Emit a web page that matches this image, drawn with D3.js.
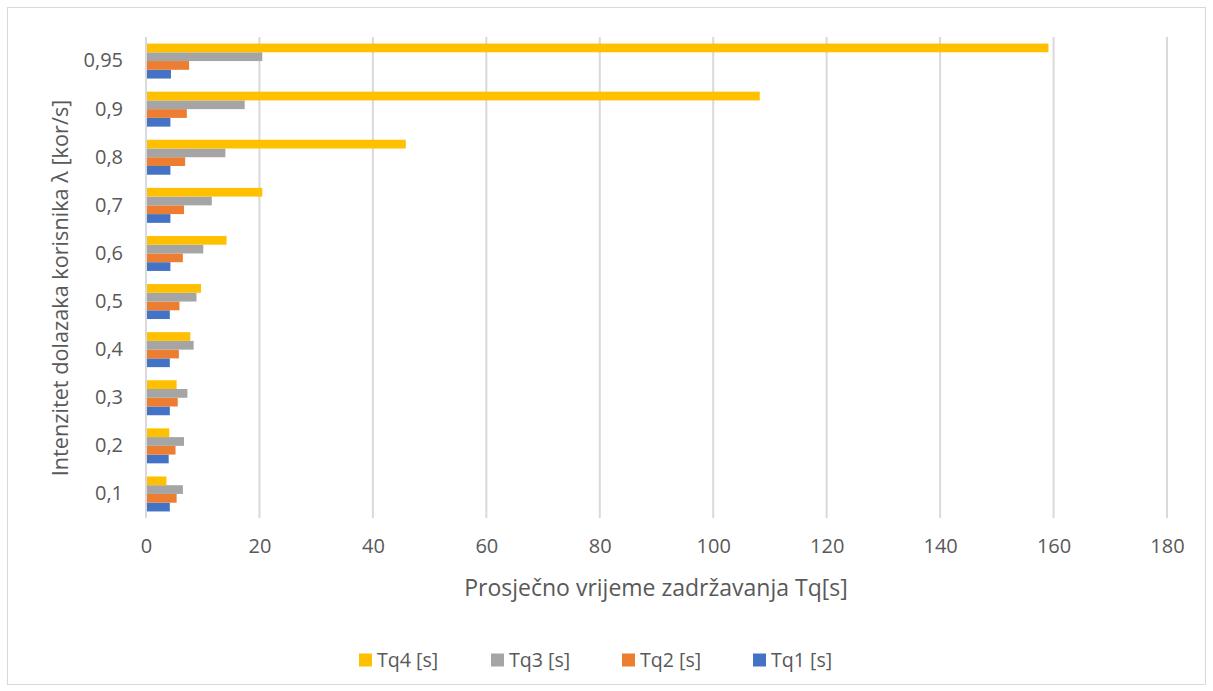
<!DOCTYPE html>
<html>
<head>
<meta charset="utf-8">
<script src="https://cdnjs.cloudflare.com/ajax/libs/d3/7.8.5/d3.min.js"></script>
<style>
  body { margin: 0; background: #fff; }
  text { font-family: "Open Sans", "Noto Sans", sans-serif; fill: #595959; }
</style>
</head>
<body>
<div class="chart"></div>
<script>
const width = 1213;
const height = 691;

// data
const categories = ["0,1", "0,2", "0,3", "0,4", "0,5", "0,6", "0,7", "0,8", "0,9", "0,95"];
const seriesNames = ["Tq1 [s]", "Tq2 [s]", "Tq3 [s]", "Tq4 [s]"];
const tq1 = [4.2, 4.0, 4.2, 4.2, 4.2, 4.3, 4.3, 4.3, 4.3, 4.4];
const tq2 = [5.4, 5.2, 5.6, 5.8, 5.9, 6.5, 6.7, 6.9, 7.2, 7.6];
const tq3 = [6.5, 6.7, 7.3, 8.4, 8.9, 10.1, 11.6, 14.0, 17.4, 20.5];
const tq4 = [3.6, 4.1, 5.4, 7.8, 9.7, 14.2, 20.5, 45.8, 108.2, 159.1];
const colors = ["#4472C4", "#ED7D31", "#A5A5A5", "#FFC000"];
const xTicks = [0, 20, 40, 60, 80, 100, 120, 140, 160, 180];

const series = [tq1, tq2, tq3, tq4];

const margin = {left: 146, right: 46, top: 37, bottom: 173};

const svg = d3.select(".chart")
  .append("svg")
  .attr("width", width)
  .attr("height", height);

// chart area border
svg.append("rect")
  .attr("x", 7.5).attr("y", 7.5)
  .attr("width", width - 15).attr("height", height - 14)
  .attr("fill", "#fff")
  .attr("stroke", "#d9d9d9")
  .attr("stroke-width", 1);

let xScale = d3.scaleLinear()
  .domain([0, 180])
  .range([margin.left, width - margin.right]);

// categories go bottom (0,1) to top (0,95)
let yScale = d3.scaleBand()
  .domain(categories.slice().reverse())
  .range([margin.top, height - margin.bottom]);

const barH = yScale.bandwidth() / 5.5;

let inner = d3.scaleBand()
  .domain([3, 2, 1, 0])   // Tq4 on top, Tq1 at bottom
  .range([(yScale.bandwidth() - 4 * barH) / 2, (yScale.bandwidth() + 4 * barH) / 2]);

// gridlines
svg.append("g")
  .selectAll("line")
  .data(xTicks.slice(1))
  .enter()
  .append("line")
  .attr("x1", d => xScale(d)).attr("x2", d => xScale(d))
  .attr("y1", margin.top).attr("y2", height - margin.bottom)
  .attr("stroke", "#d9d9d9")
  .attr("stroke-width", 2);

// bars
series.forEach((vals, s) => {
  svg.append("g")
    .selectAll("rect")
    .data(vals)
    .enter()
    .append("rect")
    .attr("x", xScale(0))
    .attr("y", (d, i) => yScale(categories[i]) + inner(s))
    .attr("width", d => xScale(d) - xScale(0))
    .attr("height", inner.bandwidth())
    .attr("fill", colors[s]);
});

// category axis line
svg.append("line")
  .attr("x1", xScale(0)).attr("x2", xScale(0))
  .attr("y1", margin.top).attr("y2", height - margin.bottom)
  .attr("stroke", "#d9d9d9")
  .attr("stroke-width", 2);

const xAxis = d3.axisBottom(xScale).tickValues(xTicks).tickSize(0).tickPadding(21);
const gx = svg.append("g")
  .attr("transform", "translate(0," + (height - margin.bottom) + ")")
  .call(xAxis);
gx.select(".domain").remove();
gx.selectAll("text").style("font-size", "20px").attr("fill", "#595959");

const yAxis = d3.axisLeft(yScale).tickSize(0).tickPadding(23);
const gy = svg.append("g")
  .attr("transform", "translate(" + margin.left + ",0)")
  .call(yAxis);
gy.select(".domain").remove();
gy.selectAll("text").style("font-size", "20px").attr("fill", "#595959");

// axis titles
svg.append("text")
  .attr("x", 656).attr("y", 596)
  .attr("text-anchor", "middle")
  .style("font-size", "23px")
  .text("Prosječno vrijeme zadržavanja Tq[s]");

svg.append("text")
  .attr("transform", "translate(68,288) rotate(-90)")
  .attr("text-anchor", "middle")
  .style("font-size", "21.7px")
  .text("Intenzitet dolazaka korisnika λ [kor/s]");

// legend, Tq4 first
const legendX = [359, 491, 622, 753];
const legendOrder = [3, 2, 1, 0];
const lg = svg.append("g")
  .selectAll("g")
  .data(legendOrder)
  .enter()
  .append("g")
  .attr("transform", (d, i) => "translate(" + legendX[i] + ",660)");
lg.append("rect")
  .attr("x", 0).attr("y", -6.5)
  .attr("width", 13).attr("height", 13)
  .attr("fill", d => colors[d]);
lg.append("text")
  .attr("x", 18).attr("y", 0)
  .attr("dy", "0.35em")
  .style("font-size", "19.6px")
  .text(d => seriesNames[d]);
</script>
</body>
</html>
